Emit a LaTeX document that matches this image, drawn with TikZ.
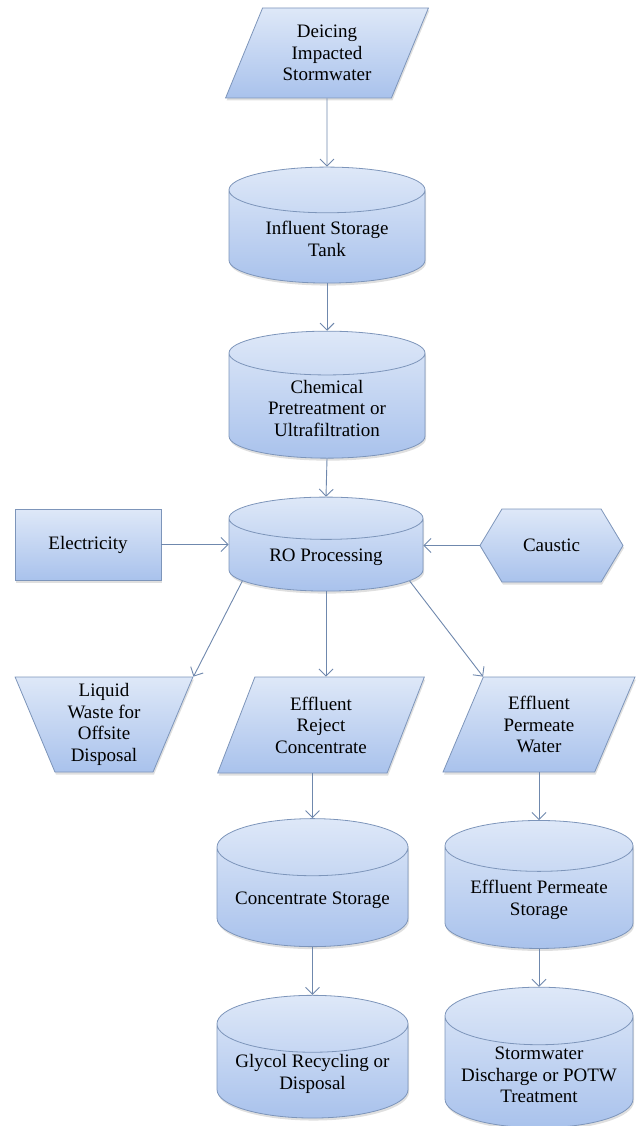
\documentclass[tikz,border=0pt]{standalone}
\usepackage{fontspec}
\setmainfont{Liberation Serif}
\usetikzlibrary{shapes.geometric,shapes.symbols,arrows.meta,shadows}
\definecolor{boxtop}{HTML}{DEE8F8}
\definecolor{boxbot}{HTML}{A9C2EC}
\definecolor{boxline}{HTML}{7D95BA}
\definecolor{flowline}{HTML}{6F88AD}
\tikzstyle{arrow} = [-{Straight Barb[length=7pt,width=14pt]},draw=flowline,line width=0.9pt]
\tikzstyle{box} = [draw=boxline,line width=0.8pt,top color=boxtop,bottom color=boxbot,align=center,
  font=\fontsize{19}{21.5}\selectfont,inner sep=2pt,
  drop shadow={shadow xshift=1pt,shadow yshift=-2.5pt,opacity=0.25}]
\tikzstyle{tank} = [box,cylinder,shape border rotate=90,aspect=0.36]
\tikzstyle{data} = [box,trapezium,trapezium left angle=66,trapezium right angle=114,trapezium stretches=true]

\begin{document}
\begin{tikzpicture}[x=1pt,y=-1pt]
        \useasboundingbox (0,0) rectangle (635,1126);
        % main line
        \node[data, minimum width=203pt, minimum height=90pt] at (327,53) (dei) {Deicing\\Impacted\\Stormwater};
        \node[tank, minimum width=196pt, minimum height=116pt] at (327,239) (infl) {Influent Storage\\Tank};
        \node[tank, minimum width=196pt, minimum height=127pt] at (327,408) (chem) {Chemical\\Pretreatment or\\Ultrafiltration};
        \node[tank, minimum width=194pt, minimum height=94pt] at (326,557) (ro) {RO Processing};
        \node[box, rectangle, minimum width=146pt, minimum height=71pt] at (88,544.5) (elec) {Electricity};
        \node[box, signal, signal to=east and west, signal pointer angle=118, minimum width=143pt, minimum height=73pt] at (551.5,545.5) (caus) {Caustic};

        % outputs
        \node[box, trapezium, trapezium left angle=110, trapezium right angle=110,
              trapezium stretches=true, minimum width=178pt, minimum height=95pt] at (104,724.5) (liq) {Liquid\\Waste for\\Offsite\\Disposal};
        \node[data, minimum width=207pt, minimum height=96pt] at (321,725) (rej) {Effluent\\Reject\\Concentrate};
        \node[data, minimum width=192pt, minimum height=95pt] at (539,724.5) (pw) {Effluent\\Permeate\\Water};
        \node[tank, minimum width=191pt, minimum height=128pt] at (312.5,900) (cst) {Concentrate Storage};
        \node[tank, minimum width=188pt, minimum height=128pt] at (539,900) (pst) {Effluent Permeate\\Storage};
        \node[tank, minimum width=191pt, minimum height=122pt] at (312.5,1074) (gly) {Glycol Recycling or\\Disposal};
        \node[tank, minimum width=188pt, minimum height=122pt] at (539,1075) (sw) {Stormwater\\Discharge or POTW\\Treatment};

        \draw[arrow] (dei.south) -- (infl.north);
        \draw[arrow] (infl.south) -- (chem.north);
        \draw[arrow] (chem.south) -- (ro.north);
        \draw[arrow] (elec.east) -- (elec.east -| ro.west);
        \draw[arrow] (caus.west) -- (caus.west -| ro.east);
        \draw[arrow] (ro.196) -- (liq.top right corner);
        \draw[arrow] (ro.south) -- (ro.south |- rej.north);
        \draw[arrow] (ro.-16) -- (pw.top left corner);
        \draw[arrow] (cst.north |- rej.south) -- (cst.north);
        \draw[arrow] (pst.north |- pw.south) -- (pst.north);
        \draw[arrow] (cst.south) -- (gly.north);
        \draw[arrow] (pst.south) -- (sw.north);
\end{tikzpicture}
\end{document}
